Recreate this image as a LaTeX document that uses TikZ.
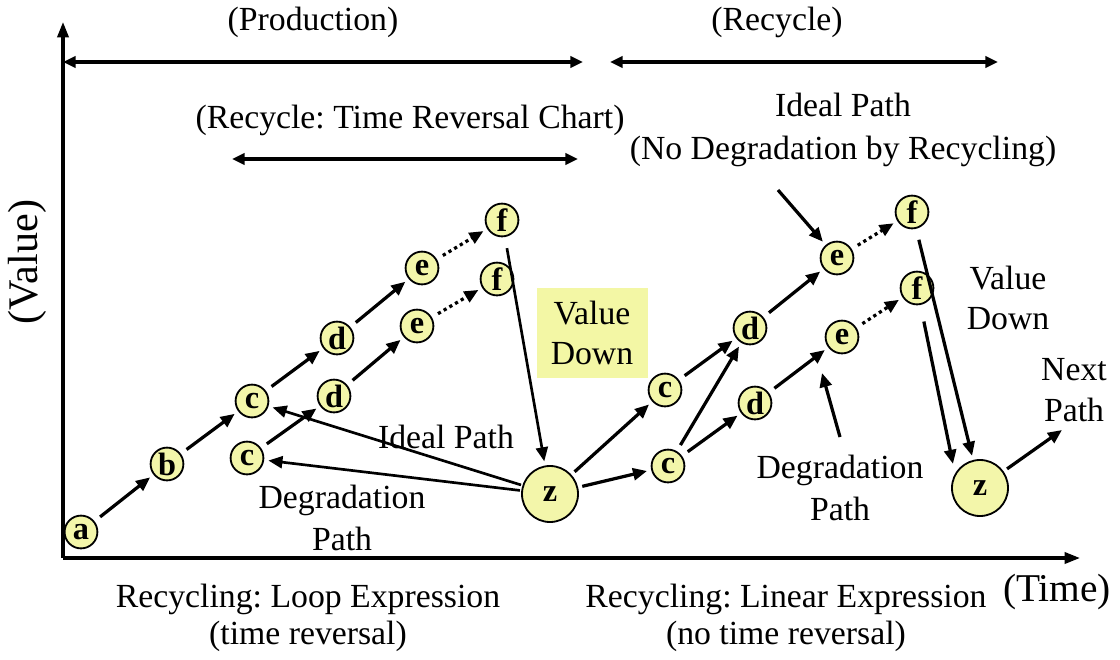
\documentclass[tikz,border=0pt]{standalone}
\usepackage{fontspec}
\setmainfont{Liberation Serif}
\usetikzlibrary{arrows.meta}
\definecolor{nodefill}{RGB}{243,246,170}
\definecolor{boxfill}{RGB}{243,247,165}
\frenchspacing
\begin{document}
\begin{tikzpicture}[x=0.025cm,y=-0.025cm,
  dot/.style={circle,draw,line width=1.3pt,fill=nodefill,minimum size=0.82cm,inner sep=0pt,
    font=\fontsize{23}{23}\selectfont\bfseries},
  bigdot/.style={dot,minimum size=1.4cm},
  tip/.style={-{Triangle[length=10pt,width=8.5pt]}},
  arr/.style={line width=2.3pt,tip,shorten >=3pt,shorten <=5pt},
  thinarr/.style={arr,line width=1.9pt},
  dotarr/.style={arr,dash pattern=on 2.3pt off 2.4pt},
  span/.style={line width=2.2pt,{Triangle[length=9pt,width=8pt]}-{Triangle[length=9pt,width=8pt]}},
  lbl/.style={font=\fontsize{24}{30}\selectfont,align=center,inner sep=0pt},
  axis/.style={line width=2.2pt,-{Triangle[length=11pt,width=8pt]}}
]
\useasboundingbox (0,0) rectangle (1120,659);

% axes
\coordinate (O) at (63,558);
\coordinate (Ytop) at (63,22);
\coordinate (Xend) at (1080,558);
\draw[axis] (O) -- (Ytop);
\draw[axis] (O) -- (Xend);
\node[lbl,font=\fontsize{30}{30}\selectfont,rotate=90] (yl) at (27,262) {(Value)};
\node[lbl,font=\fontsize{28}{28}\selectfont] (xl) at (1057,592) {(Time)};

% phase spans
\coordinate (p1) at (63,62);   \coordinate (p2) at (583,62);
\coordinate (r1) at (610,62);  \coordinate (r2) at (998,62);
\coordinate (t1) at (232,159); \coordinate (t2) at (578,159);
\draw[span] (p1) -- (p2);
\draw[span] (r1) -- (r2);
\draw[span] (t1) -- (t2);
\node[lbl] (prod) at (313,22) {(Production)};
\node[lbl] (rec) at (777,22) {(Recycle)};
\node[lbl] (trc) at (410,120) {(Recycle: Time Reversal Chart)};
\node[lbl,font=\fontsize{24}{31}\selectfont] (ideal) at (843,130) {Ideal Path\\(No Degradation by Recycling)};

% loop expression (left)
\node[dot] (a)  at (81,532)  {a};
\node[dot] (b)  at (167,464) {b};
\node[dot] (cT) at (252,401) {c};
\node[dot] (cB) at (247,458) {c};
\node[dot] (dT) at (337,338) {d};
\node[dot] (dB) at (334,396) {d};
\node[dot] (eT) at (422,268) {e};
\node[dot] (eB) at (417,326) {e};
\node[dot] (fT) at (502,220) {f};
\node[dot] (fB) at (497,279) {f};
\node[bigdot] (z) at (550,494) {z};

\draw[arr] (a) -- (b);
\draw[arr] (b) -- (cT);
\draw[arr] (cT) -- (dT);
\draw[arr] (dT) -- (eT);
\draw[dotarr] (eT) -- (fT);
\draw[arr] (cB) -- (dB);
\draw[arr] (dB) -- (eB);
\draw[dotarr] (eB) -- (fB);
\draw[thinarr,shorten <=8pt] (fT) -- (z);
\draw[thinarr,shorten <=1pt] (z) -- (cT);
\draw[thinarr,shorten <=1pt] (z) -- (cB);

\fill[boxfill] (537,288) rectangle (648,378);
\node[lbl,font=\fontsize{24}{29}\selectfont] (vd) at (592,333) {Value\\Down};
\node[lbl] (ip) at (446,437) {Ideal Path};
\node[lbl] (dp) at (342,518) {Degradation\\Path};

% linear expression (right)
\node[dot] (rcT) at (665,390) {c};
\node[dot] (rcB) at (668,466) {c};
\node[dot] (rdT) at (750,328) {d};
\node[dot] (rdB) at (755,403) {d};
\node[dot] (reT) at (837,258) {e};
\node[dot] (reB) at (842,337) {e};
\node[dot] (rfT) at (912,212) {f};
\node[dot] (rfB) at (917,288) {f};
\node[bigdot] (rz) at (980,488) {z};

\draw[arr,shorten <=3pt] (z) -- (rcT);
\draw[arr,shorten <=3pt] (z) -- (rcB);
\draw[arr] (rcT) -- (rdT);
\draw[arr] (rcB) -- (rdT);
\draw[arr] (rcB) -- (rdB);
\draw[arr] (rdT) -- (reT);
\draw[arr] (rdB) -- (reB);
\draw[dotarr] (reT) -- (rfT);
\draw[dotarr] (reB) -- (rfB);
\draw[arr,shorten <=8pt] (rfT) -- (rz);
\draw[arr,shorten <=12pt,shorten >=7pt] (rfB) -- (rz.150);

\coordinate (ipFrom) at (778,190);
\draw[arr,shorten <=0pt] (ipFrom) -- (reT);
\coordinate (dpFrom) at (840,437);
\coordinate (dpTo) at (822,373);
\draw[arr,shorten <=0pt,shorten >=0pt] (dpFrom) -- (dpTo);
\coordinate (nxt) at (1062,430);
\draw[arr,shorten <=3pt,shorten >=0pt] (rz) -- (nxt);

\node[lbl,font=\fontsize{24}{29}\selectfont] (vd2) at (1008,298) {Value\\Down};
\node[lbl,font=\fontsize{24}{29}\selectfont] (np) at (1074,390) {Next\\Path};
\node[lbl] (dp2) at (840,488) {Degradation\\Path};

% captions
\node[lbl,font=\fontsize{24}{26}\selectfont] (capL) at (308,618) {Recycling: Loop Expression\\(time reversal)};
\node[lbl,font=\fontsize{24}{26}\selectfont] (capR) at (786,618) {Recycling: Linear Expression\\(no time reversal)};
\end{tikzpicture}
\end{document}
